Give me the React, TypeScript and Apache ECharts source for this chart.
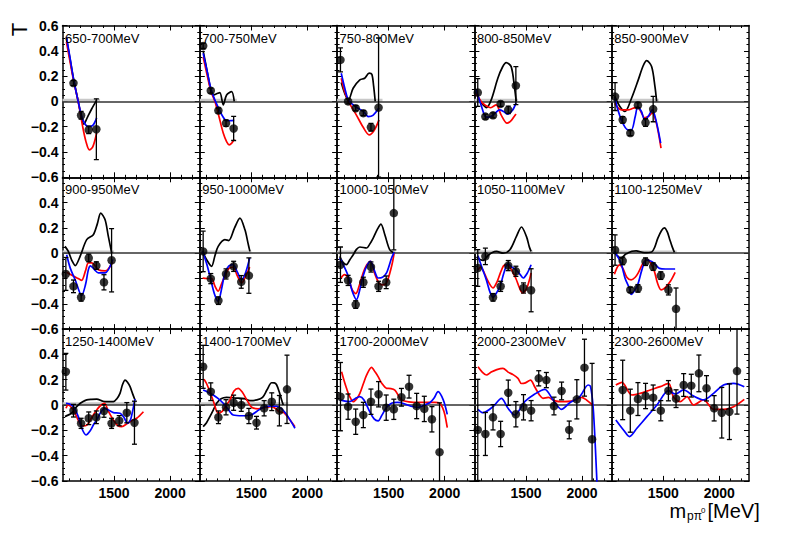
import React, { useEffect, useRef } from 'react';
import * as echarts from 'echarts';

// ---------- data ----------
const panelLabels = [
  '650-700MeV', '700-750MeV', '750-800MeV', '800-850MeV', '850-900MeV',
  '900-950MeV', '950-1000MeV', '1000-1050MeV', '1050-1100MeV', '1100-1250MeV',
  '1250-1400MeV', '1400-1700MeV', '1700-2000MeV', '2000-2300MeV', '2300-2600MeV',
];

const xMajorTicks = [1500, 2000];
const xMinorTicks = [1100, 1200, 1300, 1400, 1500, 1600, 1700, 1800, 1900, 2000, 2100, 2200];
const xMajorLabels = [1500, 2000];

// points: [m, T, error]
const pts1 = [[1138, 0.145, 0.02], [1206, -0.11, 0.03], [1274, -0.225, 0.03], [1342, -0.22, 0.24]];
const blue1 = [[1075, 0.51], [1110, 0.33], [1140, 0.17], [1180, 0.0], [1220, -0.14], [1270, -0.2], [1310, -0.19], [1345, -0.13]];
const red1 = [[1075, 0.47], [1110, 0.3], [1140, 0.16], [1180, 0.0], [1220, -0.2], [1250, -0.32], [1280, -0.383], [1310, -0.36], [1345, -0.25]];
const black1 = [[1075, 0.5], [1110, 0.32], [1140, 0.17], [1180, 0.0], [1210, -0.13], [1230, -0.18], [1260, -0.13], [1300, -0.06], [1345, 0.01]];

const pts2 = [[1070, 0.438, 0.02], [1138, 0.085, 0.02], [1206, -0.072, 0.02], [1274, -0.172, 0.025], [1342, -0.214, 0.095]];
const blue2 = [[1070, 0.38], [1105, 0.24], [1139, 0.1], [1175, 0.01], [1211, -0.06], [1245, -0.12], [1279, -0.153], [1347, -0.15]];
const red2 = [[1070, 0.35], [1105, 0.21], [1139, 0.08], [1175, 0.0], [1211, -0.12], [1249, -0.25], [1280, -0.32], [1302, -0.343], [1325, -0.33], [1347, -0.3]];
const black2 = [[1070, 0.4], [1105, 0.24], [1139, 0.09], [1160, 0.05], [1190, 0.06], [1219, 0.07], [1249, -0.027], [1279, 0.05], [1324, 0.078], [1347, 0.0]];

const pts3 = [[1070, 0.328, 0.095], [1138, 0.0, 0.02], [1206, -0.054, 0.02], [1274, -0.093, 0.02], [1342, -0.204, 0.03], [1410, -0.049, 0.55]];
const blue3 = [[1077, 0.223], [1110, 0.1], [1141, 0.01], [1203, -0.04], [1275, -0.08], [1318, -0.12], [1360, -0.11], [1414, -0.05]];
const red3 = [[1077, 0.183], [1110, 0.07], [1141, 0.0], [1211, -0.106], [1270, -0.2], [1326, -0.264], [1370, -0.23], [1414, -0.146]];
const black3 = [[1077, 0.15], [1110, 0.06], [1141, 0.01], [1183, 0.104], [1243, 0.17], [1286, 0.183], [1326, 0.223], [1350, 0.215], [1366, 0.12], [1380, 0.0]];

const pts4 = [[1070, 0.07, 0.11], [1138, -0.12, 0.02], [1206, -0.11, 0.02], [1274, -0.02, 0.02], [1342, -0.067, 0.03], [1410, 0.125, 0.15]];
const blue4 = [[1056, 0.09], [1100, -0.03], [1138, -0.12], [1170, -0.125], [1206, -0.11], [1265, -0.067], [1300, -0.08], [1335, -0.1], [1380, -0.07], [1411, -0.014]];
const red4 = [[1056, 0.06], [1100, 0.0], [1132, -0.027], [1185, -0.05], [1234, -0.027], [1278, -0.106], [1331, -0.172], [1370, -0.15], [1411, -0.1]];
const black4 = [[1056, 0.08], [1090, 0.0], [1118, -0.027], [1147, -0.05], [1190, 0.012], [1249, 0.183], [1290, 0.27], [1324, 0.306], [1368, 0.275], [1397, 0.117], [1413, 0.0]];

const pts5 = [[1070, 0.038, 0.11], [1138, -0.146, 0.025], [1206, -0.25, 0.02], [1274, -0.03, 0.02], [1342, -0.167, 0.03], [1410, -0.061, 0.1]];
const blue5 = [[1067, 0.025], [1126, -0.146], [1186, -0.225], [1216, -0.225], [1250, -0.12], [1272, -0.046], [1305, -0.08], [1334, -0.146], [1365, -0.12], [1402, -0.067], [1438, -0.16], [1477, -0.33]];
const red5 = [[1067, -0.015], [1126, -0.067], [1186, -0.067], [1231, -0.054], [1272, -0.046], [1305, -0.09], [1334, -0.13], [1365, -0.12], [1402, -0.093], [1438, -0.17], [1480, -0.37]];
const black5 = [[1067, 0.04], [1113, -0.04], [1158, -0.08], [1217, 0.025], [1277, 0.17], [1320, 0.28], [1352, 0.322], [1396, 0.275], [1426, 0.117], [1441, 0.0]];

const pts6 = [[1070, -0.164, 0.13], [1138, -0.262, 0.05], [1206, -0.349, 0.03], [1274, -0.038, 0.03], [1342, -0.098, 0.03], [1410, -0.23, 0.06], [1478, -0.056, 0.25]];
const blue6 = [[1077, -0.012], [1110, -0.12], [1153, -0.21], [1211, -0.335], [1245, -0.25], [1271, -0.13], [1290, -0.1], [1325, -0.13], [1360, -0.156], [1420, -0.156], [1488, -0.05]];
const red6 = [[1077, -0.15], [1136, -0.18], [1180, -0.2], [1211, -0.215], [1245, -0.14], [1271, -0.077], [1300, -0.077], [1360, -0.13], [1420, -0.14], [1488, -0.07]];
const black6 = [[1062, 0.054], [1092, 0.014], [1125, -0.06], [1153, -0.098], [1197, -0.025], [1256, 0.107], [1315, 0.146], [1350, 0.23], [1381, 0.317], [1420, 0.264], [1449, 0.133], [1479, 0.0]];

const pts7 = [[1070, 0.014, 0.16], [1138, -0.201, 0.04], [1206, -0.375, 0.03], [1274, -0.164, 0.04], [1342, -0.104, 0.04], [1410, -0.227, 0.05], [1478, -0.177, 0.14]];
const blue7 = [[1065, 0.014], [1100, -0.08], [1130, -0.18], [1170, -0.32], [1204, -0.38], [1235, -0.28], [1264, -0.156], [1300, -0.1], [1338, -0.09], [1375, -0.15], [1413, -0.21], [1450, -0.15], [1485, -0.038]];
const red7 = [[1065, -0.196], [1100, -0.2], [1145, -0.2], [1175, -0.26], [1204, -0.3], [1235, -0.24], [1264, -0.18], [1300, -0.12], [1338, -0.11], [1375, -0.18], [1413, -0.235], [1450, -0.18], [1485, -0.11]];
const black7 = [[1065, 0.014], [1100, -0.05], [1145, -0.104], [1175, -0.02], [1204, 0.054], [1264, 0.107], [1298, 0.1], [1350, 0.2], [1398, 0.278], [1443, 0.185], [1470, 0.08], [1487, 0.014]];

const pts8 = [[1070, -0.091, 0.14], [1138, -0.215, 0.04], [1206, -0.406, 0.03], [1274, -0.23, 0.04], [1342, -0.109, 0.04], [1410, -0.262, 0.04], [1478, -0.23, 0.05], [1546, 0.317, 0.29]];
const blue8 = [[1064, -0.038], [1100, -0.1], [1139, -0.18], [1175, -0.3], [1213, -0.367], [1245, -0.28], [1272, -0.18], [1305, -0.1], [1338, -0.065], [1370, -0.13], [1406, -0.196], [1445, -0.19], [1481, -0.156], [1526, -0.038], [1549, 0.006]];
const red8 = [[1075, -0.196], [1105, -0.17], [1139, -0.2], [1175, -0.29], [1207, -0.32], [1240, -0.25], [1272, -0.156], [1305, -0.09], [1338, -0.065], [1375, -0.16], [1413, -0.235], [1445, -0.25], [1481, -0.235], [1526, -0.104], [1549, 0.0]];
const black8 = [[1064, -0.025], [1090, -0.07], [1124, -0.091], [1155, -0.05], [1184, -0.012], [1213, 0.03], [1243, 0.049], [1303, 0.041], [1330, 0.07], [1362, 0.12], [1400, 0.19], [1431, 0.23], [1466, 0.146], [1509, 0.028], [1549, 0.0]];

const pts9 = [[1070, -0.117, 0.145], [1138, -0.025, 0.065], [1206, -0.349, 0.03], [1274, -0.262, 0.04], [1342, -0.098, 0.04], [1410, -0.143, 0.04], [1478, -0.275, 0.04], [1546, -0.293, 0.17]];
const blue9 = [[1072, -0.02], [1110, -0.12], [1146, -0.209], [1180, -0.31], [1206, -0.349], [1240, -0.31], [1270, -0.26], [1305, -0.15], [1339, -0.083], [1375, -0.11], [1410, -0.13], [1445, -0.165], [1475, -0.196], [1510, -0.16], [1546, -0.091]];
const red9 = [[1072, -0.13], [1095, -0.11], [1120, -0.14], [1160, -0.22], [1206, -0.275], [1240, -0.23], [1270, -0.16], [1300, -0.1], [1325, -0.091], [1370, -0.13], [1410, -0.2], [1445, -0.28], [1470, -0.314], [1510, -0.27], [1546, -0.156]];
const black9 = [[1059, -0.03], [1090, -0.05], [1118, -0.057], [1160, -0.02], [1200, 0.005], [1237, 0.014], [1297, 0.0], [1357, 0.028], [1415, 0.133], [1460, 0.207], [1504, 0.133], [1530, 0.05], [1546, 0.014]];

const pts10 = [[1070, 0.025, 0.12], [1138, -0.061, 0.03], [1206, -0.29, 0.02], [1274, -0.278, 0.03], [1342, -0.067, 0.03], [1410, -0.106, 0.03], [1478, -0.177, 0.03], [1546, -0.29, 0.04], [1614, -0.44, 0.165]];
const blue10 = [[1064, 0.012], [1095, -0.03], [1124, -0.08], [1160, -0.2], [1198, -0.278], [1213, -0.325], [1240, -0.3], [1272, -0.25], [1310, -0.13], [1347, -0.053], [1380, -0.06], [1406, -0.07], [1440, -0.1], [1466, -0.12], [1520, -0.125], [1606, -0.125]];
const red10 = [[1064, -0.167], [1090, -0.11], [1109, -0.093], [1140, -0.12], [1175, -0.19], [1213, -0.211], [1250, -0.19], [1280, -0.15], [1320, -0.08], [1362, -0.053], [1400, -0.1], [1422, -0.146], [1450, -0.24], [1481, -0.29], [1520, -0.27], [1565, -0.22], [1606, -0.151]];
const black10 = [[1064, 0.012], [1090, -0.02], [1124, -0.04], [1160, -0.01], [1183, 0.0], [1220, 0.015], [1258, 0.018], [1330, 0.005], [1397, 0.01], [1425, 0.05], [1451, 0.117], [1485, 0.18], [1511, 0.2], [1535, 0.17], [1555, 0.117], [1580, 0.05], [1600, 0.006]];

const pts11 = [[1070, 0.263, 0.145], [1138, -0.045, 0.05], [1206, -0.145, 0.04], [1274, -0.105, 0.05], [1342, -0.097, 0.05], [1410, -0.047, 0.05], [1478, -0.145, 0.04], [1546, -0.124, 0.04], [1614, -0.061, 0.08], [1682, -0.14, 0.17]];
const blue11 = [[1071, 0.014], [1095, 0.01], [1122, 0.0], [1150, -0.03], [1181, -0.092], [1215, -0.19], [1250, -0.237], [1290, -0.2], [1320, -0.15], [1345, -0.118], [1380, -0.06], [1413, -0.026], [1450, -0.04], [1494, -0.06], [1553, -0.065], [1590, -0.1], [1619, -0.145], [1645, -0.12], [1658, -0.079], [1687, 0.047]];
const red11 = [[1071, -0.026], [1090, 0.0], [1110, -0.01], [1150, -0.06], [1180, -0.12], [1220, -0.166], [1260, -0.157], [1300, -0.1], [1345, -0.039], [1385, 0.0], [1413, 0.014], [1450, -0.05], [1494, -0.118], [1530, -0.16], [1568, -0.171], [1620, -0.145], [1665, -0.12], [1702, -0.105], [1762, -0.053]];
const black11 = [[1062, -0.092], [1090, -0.08], [1122, -0.065], [1150, -0.03], [1181, 0.0], [1220, 0.025], [1256, 0.04], [1300, 0.045], [1345, 0.047], [1400, 0.03], [1435, 0.026], [1494, 0.026], [1525, 0.05], [1553, 0.092], [1575, 0.16], [1598, 0.197], [1620, 0.18], [1643, 0.145], [1665, 0.09], [1687, 0.04]];

const pts12 = [[1070, 0.302, 0.17], [1138, 0.105, 0.07], [1206, -0.097, 0.05], [1274, -0.018, 0.06], [1342, 0.018, 0.06], [1410, 0.0, 0.05], [1478, -0.087, 0.06], [1546, -0.14, 0.05], [1614, -0.026, 0.06], [1682, 0.026, 0.07], [1750, -0.045, 0.12], [1818, 0.124, 0.27]];
const blue12 = [[1070, 0.118], [1115, 0.1], [1160, 0.079], [1205, 0.05], [1249, 0.014], [1290, -0.03], [1338, -0.079], [1420, -0.085], [1498, -0.079], [1550, -0.05], [1606, -0.018], [1665, -0.01], [1725, -0.01], [1770, -0.03], [1810, -0.07], [1845, -0.118], [1889, -0.184]];
const red12 = [[1077, 0.203], [1100, 0.17], [1130, 0.105], [1165, 0.02], [1204, -0.065], [1240, -0.05], [1270, -0.01], [1309, 0.04], [1345, 0.11], [1383, 0.132], [1420, 0.1], [1460, 0.04], [1502, -0.018], [1560, -0.03], [1620, -0.02], [1681, -0.013], [1720, -0.03], [1749, -0.053], [1790, -0.06], [1845, -0.118], [1889, -0.171]];
const black12 = [[1070, -0.171], [1100, -0.14], [1130, -0.092], [1160, -0.04], [1190, 0.014], [1230, 0.05], [1279, 0.061], [1360, 0.055], [1436, 0.05], [1487, 0.034], [1550, 0.04], [1600, 0.06], [1640, 0.12], [1681, 0.176], [1705, 0.175], [1725, 0.16], [1750, 0.1], [1770, 0.04], [1785, 0.0]];

const pts13 = [[1070, 0.066, 0.27], [1138, -0.013, 0.1], [1206, -0.132, 0.1], [1274, -0.079, 0.1], [1342, 0.026, 0.1], [1410, 0.085, 0.1], [1478, -0.021, 0.1], [1546, -0.034, 0.08], [1614, 0.061, 0.07], [1682, 0.145, 0.09], [1750, -0.008, 0.1], [1818, -0.031, 0.1], [1886, -0.113, 0.1], [1954, -0.373, 0.39]];
const blue13 = [[1064, 0.04], [1110, 0.03], [1150, 0.026], [1200, 0.05], [1243, 0.066], [1280, 0.04], [1330, -0.05], [1370, -0.11], [1406, -0.126], [1440, -0.08], [1480, -0.02], [1525, 0.014], [1580, 0.02], [1640, 0.01], [1700, -0.01], [1764, -0.018], [1820, 0.0], [1870, 0.02], [1904, 0.053], [1941, 0.105], [1987, 0.04], [2023, -0.074]];
const red13 = [[1080, 0.263], [1100, 0.2], [1124, 0.132], [1150, 0.07], [1184, 0.026], [1215, 0.05], [1243, 0.092], [1275, 0.17], [1303, 0.237], [1347, 0.298], [1380, 0.26], [1406, 0.224], [1440, 0.17], [1481, 0.132], [1520, 0.13], [1555, 0.118], [1590, 0.07], [1615, 0.04], [1680, 0.025], [1764, 0.02], [1850, 0.02], [1910, 0.02], [1957, 0.013], [1985, -0.03], [2002, -0.079], [2023, -0.179]];
const black13: number[][] = [];

const pts14 = [[1070, -0.197, 0.4], [1138, -0.229, 0.17], [1206, -0.097, 0.1], [1274, -0.229, 0.1], [1342, 0.097, 0.1], [1410, -0.073, 0.1], [1478, -0.018, 0.1], [1546, -0.045, 0.08], [1614, 0.211, 0.06], [1682, 0.197, 0.06], [1750, -0.008, 0.07], [1818, 0.111, 0.07], [1886, -0.197, 0.07], [1954, 0.045, 0.155], [2022, 0.295, 0.225], [2090, -0.271, 0.6]];
const blue14 = [[1072, -0.034], [1117, -0.061], [1206, -0.013], [1281, 0.053], [1340, -0.026], [1400, -0.079], [1489, 0.026], [1579, 0.087], [1668, 0.124], [1742, 0.04], [1817, -0.034], [1891, 0.018], [1980, 0.066], [2055, 0.158], [2076, 0.145], [2099, -0.013], [2120, -0.35], [2140, -0.75]];
const red14 = [[1072, 0.302], [1110, 0.26], [1147, 0.237], [1190, 0.26], [1240, 0.28], [1295, 0.29], [1340, 0.26], [1385, 0.24], [1429, 0.211], [1460, 0.17], [1495, 0.175], [1540, 0.197], [1580, 0.14], [1620, 0.08], [1652, 0.053], [1700, 0.06], [1750, 0.035], [1831, 0.026], [1900, 0.03], [1950, 0.045], [1995, 0.061], [2040, 0.04], [2080, 0.01], [2099, -0.008]];
const black14: number[][] = [];

const pts15 = [[1138, 0.119, 0.235], [1206, -0.045, 0.17], [1274, 0.047, 0.13], [1342, 0.071, 0.1], [1410, 0.058, 0.1], [1478, -0.045, 0.08], [1546, 0.113, 0.08], [1614, 0.05, 0.07], [1682, 0.158, 0.09], [1750, 0.153, 0.09], [1818, 0.25, 0.145], [1886, 0.132, 0.1], [1954, -0.026, 0.1], [2022, -0.061, 0.2], [2090, -0.053, 0.22], [2158, 0.268, 0.34]];
const blue15 = [[1077, -0.118], [1145, -0.197], [1199, -0.25], [1265, -0.184], [1354, -0.092], [1444, 0.0], [1547, 0.113], [1607, 0.087], [1681, 0.119], [1770, 0.071], [1860, 0.04], [1949, 0.092], [2038, 0.158], [2128, 0.171], [2223, 0.145]];
const red15 = [[1077, 0.158], [1131, 0.179], [1220, 0.079], [1294, 0.092], [1384, 0.119], [1473, 0.145], [1547, 0.171], [1592, 0.061], [1652, 0.026], [1712, 0.066], [1770, 0.0], [1860, 0.04], [1949, -0.034], [2038, -0.034], [2128, -0.013], [2223, 0.045]];
const black15: number[][] = [];

// end of the grey systematic-error band in each panel (null = none)
const sysEnds = [1375, 1370, 1445, 1430, 1460, 1500, 1500, 1560, 1560, 1620, 1700, 1830, null, null, null];
const sysLevel = 0.01;

const panels = [
  { pts: pts1, blue: blue1, red: red1, black: black1 },
  { pts: pts2, blue: blue2, red: red2, black: black2 },
  { pts: pts3, blue: blue3, red: red3, black: black3 },
  { pts: pts4, blue: blue4, red: red4, black: black4 },
  { pts: pts5, blue: blue5, red: red5, black: black5 },
  { pts: pts6, blue: blue6, red: red6, black: black6 },
  { pts: pts7, blue: blue7, red: red7, black: black7 },
  { pts: pts8, blue: blue8, red: red8, black: black8 },
  { pts: pts9, blue: blue9, red: red9, black: black9 },
  { pts: pts10, blue: blue10, red: red10, black: black10 },
  { pts: pts11, blue: blue11, red: red11, black: black11 },
  { pts: pts12, blue: blue12, red: red12, black: black12 },
  { pts: pts13, blue: blue13, red: red13, black: black13 },
  { pts: pts14, blue: blue14, red: red14, black: black14 },
  { pts: pts15, blue: blue15, red: red15, black: black15 },
];

// ---------- layout ----------
const X_MIN = 1040;
const X_MAX = 2265;
const Y_MIN = -0.6;
const Y_MAX = 0.6;
const GRID_LEFT = 62.5;
const GRID_TOP = 25.5;
const CELL_W = 137.3;
const CELL_H = 151.8;
const FONT = "'Liberation Sans', Arial, Helvetica, sans-serif";

function fmtY(v: number) {
  if (Math.abs(v) < 1e-9) return '0';
  const s = Math.abs(v).toFixed(1);
  return v < 0 ? '\u2212' + s : s;
}

function fmtX(v: number) {
  return String(Math.round(v));
}

function buildOption() {
  const grid: any[] = [];
  const xAxis: any[] = [];
  const yAxis: any[] = [];
  const series: any[] = [];
  const graphic: any[] = [];

  panels.forEach((p, i) => {
    const r = Math.floor(i / 5);
    const c = i % 5;
    const left = GRID_LEFT + c * CELL_W;
    const top = GRID_TOP + r * CELL_H;
    grid.push({ left, top, width: CELL_W, height: CELL_H, containLabel: false });

    const baseX = {
      type: 'value', gridIndex: i, min: X_MIN, max: X_MAX,
      splitLine: { show: false }, minorSplitLine: { show: false },
    };
    const frame = { show: true, onZero: false, lineStyle: { color: '#000', width: 1.5 } };
    const noLine = { show: false, onZero: false };
    xAxis.push({
      ...baseX, position: 'bottom', axisLine: frame,
      axisTick: { show: true, inside: true, length: 2.5, customValues: xMinorTicks, lineStyle: { color: '#000', width: 1 } },
      axisLabel: {
        show: r === 2, customValues: xMajorLabels, formatter: fmtX, color: '#000', fontSize: 14, fontWeight: 'bold',
        fontFamily: FONT, margin: 5,
      },
    });
    xAxis.push({
      ...baseX, position: 'bottom', axisLine: noLine,
      axisTick: { show: true, inside: true, length: 5, customValues: xMajorTicks, lineStyle: { color: '#000', width: 1 } },
      axisLabel: { show: false },
    });
    xAxis.push({
      ...baseX, position: 'top', axisLine: frame,
      axisTick: { show: true, inside: true, length: 2.5, customValues: xMinorTicks, lineStyle: { color: '#000', width: 1 } },
      axisLabel: { show: false },
    });
    xAxis.push({
      ...baseX, position: 'top', axisLine: noLine,
      axisTick: { show: true, inside: true, length: 5, customValues: xMajorTicks, lineStyle: { color: '#000', width: 1 } },
      axisLabel: { show: false },
    });

    const baseY = {
      type: 'value', gridIndex: i, min: Y_MIN, max: Y_MAX, interval: 0.2,
      splitLine: { show: false }, minorSplitLine: { show: false },
      axisLine: frame,
      axisTick: { show: true, inside: true, length: 5, lineStyle: { color: '#000', width: 1 } },
      minorTick: { show: true, splitNumber: 4, length: 2.5, lineStyle: { color: '#000', width: 1 } },
    };
    yAxis.push({
      ...baseY, position: 'left',
      axisLabel: {
        show: c === 0, formatter: fmtY, color: '#000', fontSize: 14, fontWeight: 'bold',
        fontFamily: FONT, margin: 4, showMaxLabel: r === 0, showMinLabel: true,
      },
    });
    yAxis.push({ ...baseY, position: 'right', axisLabel: { show: false } });

    const xi = 4 * i;
    const yi = 2 * i;

    const sysEnd = sysEnds[i];
    if (sysEnd !== null) {
      series.push({
        type: 'line', xAxisIndex: xi, yAxisIndex: yi, silent: true, symbol: 'none', z: 1,
        lineStyle: { color: '#c8c8c8', width: 3 },
        data: [[X_MIN, sysLevel], [sysEnd, sysLevel]],
      });
    }

    const curve = (data: number[][], color: string) => ({
      type: 'line', xAxisIndex: xi, yAxisIndex: yi, silent: true, symbol: 'none', smooth: 0.3, z: 3,
      clip: true, lineStyle: { color, width: 1.7 }, data,
    });
    if (p.black.length) series.push(curve(p.black, '#000000'));
    series.push(curve(p.red, '#ff0000'));
    series.push(curve(p.blue, '#0000ff'));

    series.push({
      type: 'custom', xAxisIndex: xi, yAxisIndex: yi, silent: true, z: 4, clip: true,
      encode: { x: 0, y: 1 },
      data: p.pts,
      renderItem: (_params: any, api: any) => {
        const x = api.value(0);
        const y = api.value(1);
        const e = api.value(2);
        const a = api.coord([x, y + e]);
        const b = api.coord([x, y - e]);
        const cap = 2.5;
        const st = { stroke: '#000', lineWidth: 1.3 };
        return {
          type: 'group',
          children: [
            { type: 'line', shape: { x1: a[0], y1: a[1], x2: b[0], y2: b[1] }, style: st },
            { type: 'line', shape: { x1: a[0] - cap, y1: a[1], x2: a[0] + cap, y2: a[1] }, style: st },
            { type: 'line', shape: { x1: b[0] - cap, y1: b[1], x2: b[0] + cap, y2: b[1] }, style: st },
          ],
        };
      },
    });

    series.push({
      type: 'scatter', xAxisIndex: xi, yAxisIndex: yi, silent: true, z: 5, clip: true,
      symbol: 'circle', symbolSize: 8.5, itemStyle: { color: '#000' },
      data: p.pts.map((d) => [d[0], d[1]]),
      markLine: {
        silent: true, symbol: 'none', label: { show: false }, z: 2,
        lineStyle: { color: '#333', width: 1.5, type: 'solid' },
        data: [{ yAxis: 0 }],
      },
    });

    graphic.push({
      type: 'text', x: left + 2.5, y: top + 12.5, silent: true, z: 10,
      style: {
        text: panelLabels[i], fill: '#000', fontSize: 13, fontFamily: FONT,
        textAlign: 'left', align: 'left', textVerticalAlign: 'middle', verticalAlign: 'middle',
      },
    });
  });

  // y-axis title (rotated)
  graphic.push({
    type: 'text', x: 19.5, y: 29.5, rotation: Math.PI / 2, silent: true,
    style: {
      text: 'T', fill: '#000', fontSize: 22, fontFamily: FONT,
      textAlign: 'center', align: 'center', textVerticalAlign: 'middle', verticalAlign: 'middle',
    },
  });
  // x-axis title m_{pπ0} [MeV]
  const tstyle = (text: string, size: number) => ({
    text, fill: '#000', fontSize: size, fontFamily: FONT,
    textAlign: 'left', align: 'left', textVerticalAlign: 'middle', verticalAlign: 'middle',
  });
  graphic.push({ type: 'text', x: 669.5, y: 511, silent: true, style: tstyle('m', 20) });
  graphic.push({ type: 'text', x: 687, y: 515.5, silent: true, style: tstyle('p\u03c0', 12) });
  graphic.push({ type: 'text', x: 701, y: 510.5, silent: true, style: tstyle('0', 8) });
  graphic.push({ type: 'text', x: 707.5, y: 511, silent: true, style: tstyle('[MeV]', 20) });

  return {
    animation: false,
    backgroundColor: '#ffffff',
    grid, xAxis, yAxis, series, graphic,
  };
}

export default function App() {
  const ref = useRef<HTMLDivElement>(null);
  useEffect(() => {
    if (!ref.current) return;
    const chart = echarts.init(ref.current, undefined, { renderer: 'svg' });
    chart.setOption(buildOption() as any);
    return () => chart.dispose();
  }, []);
  return (
    <div
      ref={ref}
      style={{ position: 'absolute', left: 0, top: 0, width: 788, height: 534 }}
    />
  );
}
